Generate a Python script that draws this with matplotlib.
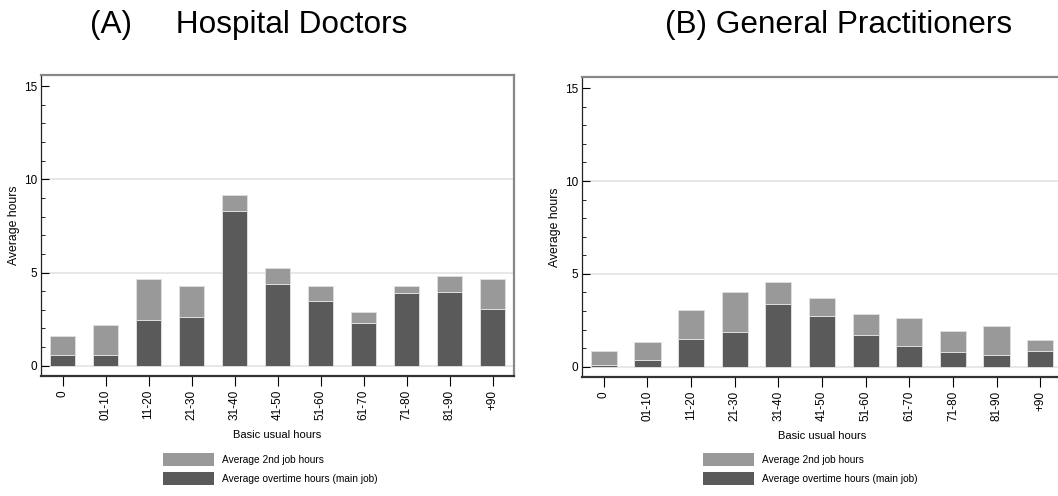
import matplotlib
matplotlib.use("Agg")
import matplotlib.pyplot as plt
from matplotlib.patches import Patch
from matplotlib.ticker import MultipleLocator
import numpy as np

plt.rcParams['font.family'] = ['Liberation Sans', 'DejaVu Sans']

groups = ["0", "01-10", "11-20", "21-30", "31-40", "41-50",
          "51-60", "61-70", "71-80", "81-90", "+90"]

# hospital doctors
hd_overtime = [0.59, 0.59, 2.45, 2.59, 8.30, 4.38, 3.45, 2.30, 3.88, 3.95, 3.02]
hd_total = [1.57, 2.16, 4.66, 4.30, 9.16, 5.23, 4.30, 2.88, 4.30, 4.80, 4.66]

# general practitioners
gp_overtime = [0.07, 0.36, 1.50, 1.86, 3.36, 2.72, 1.72, 1.14, 0.79, 0.64, 0.86]
gp_total = [0.84, 1.36, 3.08, 4.01, 4.58, 3.72, 2.86, 2.65, 1.93, 2.22, 1.43]

titles = ["(A)     Hospital Doctors", "(B) General Practitioners"]

light = "#999999"
dark = "#5a5a5a"
W, H = 1058, 496

fig = plt.figure(figsize=(W / 100, H / 100), dpi=100)


def px_axes(l, t, r, b):
    return fig.add_axes([l / W, 1 - b / H, (r - l) / W, (b - t) / H])


def panel(ax, overtime, total):
    x = np.arange(len(groups))
    second = np.array(total) - np.array(overtime)
    ax.bar(x, overtime, width=0.6, color=dark, edgecolor="#dddddd",
           linewidth=0.7, zorder=3)
    ax.bar(x, second, bottom=overtime, width=0.6, color=light,
           edgecolor="#dddddd", linewidth=0.7, zorder=3)
    ax.set_xlim(-0.5, 10.5)
    ax.set_ylim(-0.55, 15.6)
    ax.set_yticks([0, 5, 10, 15])
    ax.yaxis.set_minor_locator(MultipleLocator(1))
    for g in [0, 5, 10]:
        ax.axhline(g, color="#e3e3e3", lw=1.2, zorder=1)
    ax.set_xticks(x)
    ax.set_xticklabels(groups, rotation=90, fontsize=8.5)
    # y ticks sit inside the frame, x ticks hang below it
    ax.tick_params(axis="y", labelsize=8.5, direction="in", length=6,
                   width=0.8, pad=2.5)
    ax.tick_params(axis="y", which="minor", direction="in", length=3,
                   width=0.6)
    ax.tick_params(axis="x", length=7, width=0.8, pad=3)
    ax.set_ylabel("Average hours", fontsize=8.8, labelpad=3)
    ax.set_xlabel("Basic usual hours", fontsize=8, labelpad=7)
    ax.spines["left"].set_color("#222222")
    ax.spines["left"].set_linewidth(0.9)
    ax.spines["bottom"].set_color("#333333")
    ax.spines["bottom"].set_linewidth(1.6)
    for s in ["top", "right"]:
        ax.spines[s].set_color("#888888")
        ax.spines[s].set_linewidth(1.6)


axA = px_axes(41, 75, 514, 376)
panel(axA, hd_overtime, hd_total)
axB = px_axes(582, 77, 1062, 377)
panel(axB, gp_overtime, gp_total)

fig.text(90 / W, 1 - 33 / H, titles[0], fontsize=22.7, va="baseline", ha="left")
fig.text(665 / W, 1 - 33 / H, titles[1], fontsize=22.7, va="baseline", ha="left")

handles = [Patch(facecolor=light, edgecolor="none"),
           Patch(facecolor=dark, edgecolor="none")]
labels = ["Average 2nd job hours", "Average overtime hours (main job)"]
for lx in [163, 703]:
    fig.legend(handles, labels, loc="upper left",
               bbox_to_anchor=(lx / W, 1 - 453 / H), frameon=False,
               fontsize=7.3, handlelength=5.0, handleheight=1.6,
               handletextpad=0.8, labelspacing=0.6, borderaxespad=0,
               borderpad=0)

fig.savefig("out.png", dpi=100)
